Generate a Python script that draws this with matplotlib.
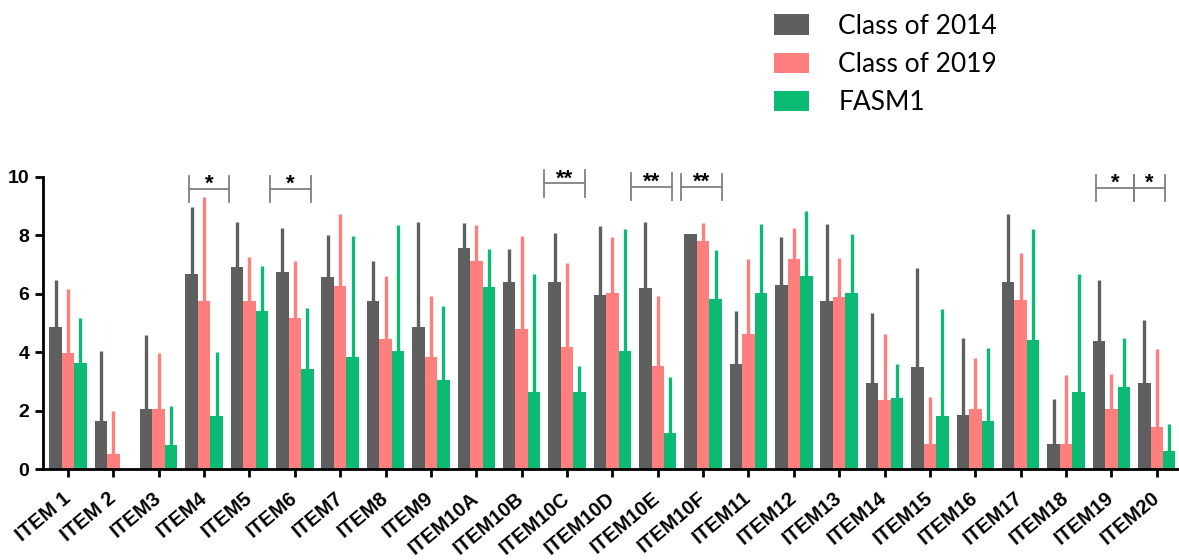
import numpy as np
import matplotlib
matplotlib.use("Agg")
import matplotlib.pyplot as plt
from matplotlib.patches import Patch

items = ["ITEM 1", "ITEM 2", "ITEM3", "ITEM4", "ITEM5", "ITEM6", "ITEM7", "ITEM8",
         "ITEM9", "ITEM10A", "ITEM10B", "ITEM10C", "ITEM10D", "ITEM10E", "ITEM10F",
         "ITEM11", "ITEM12", "ITEM13", "ITEM14", "ITEM15", "ITEM16", "ITEM17",
         "ITEM18", "ITEM19", "ITEM20"]
series = ["Class of 2014", "Class of 2019", "FASM1"]

# mean scores per item
mean_2014 = [4.85, 1.66, 2.05, 6.66, 6.93, 6.75, 6.58, 5.75, 4.85, 7.57, 6.39, 6.39, 5.96,
             6.21, 8.04, 3.59, 6.30, 5.76, 2.94, 3.49, 1.86, 6.39, 0.86, 4.38, 2.94]
mean_2019 = [3.96, 0.52, 2.05, 5.76, 5.76, 5.18, 6.28, 4.44, 3.85, 7.12, 4.78, 4.19, 6.04,
             3.54, 7.80, 4.62, 7.19, 5.89, 2.37, 0.86, 2.05, 5.79, 0.86, 2.05, 1.46]
mean_fasm = [3.62, 0.00, 0.83, 1.82, 5.41, 3.43, 3.83, 4.04, 3.05, 6.22, 2.63, 2.63, 4.04,
             1.23, 5.82, 6.04, 6.62, 6.04, 2.45, 1.82, 1.65, 4.42, 2.63, 2.82, 0.64]

# upper error (SD)
sd_2014 = [1.62, 2.39, 2.54, 2.32, 1.53, 1.51, 1.44, 1.37, 3.61, 0.84, 1.14, 1.70, 2.37,
           2.23, 0.00, 1.82, 1.63, 2.62, 2.40, 3.40, 2.64, 2.35, 1.54, 2.09, 2.16]
sd_2019 = [2.21, 1.48, 1.91, 3.56, 1.51, 1.94, 2.43, 2.17, 2.07, 1.23, 3.19, 2.87, 1.90,
           2.39, 0.63, 2.56, 1.05, 1.32, 2.24, 1.61, 1.75, 1.60, 2.35, 1.20, 2.64]
sd_fasm = [1.54, 0.00, 1.33, 2.20, 1.54, 2.08, 4.14, 4.30, 2.54, 1.32, 4.04, 0.91, 4.17,
           1.94, 1.67, 2.35, 2.21, 2.00, 1.14, 3.65, 2.51, 3.79, 4.04, 1.66, 0.91]

# significance marks: item, label
sig_items = ["ITEM4", "ITEM6", "ITEM10C", "ITEM10E", "ITEM10F", "ITEM19", "ITEM20"]
sig_labels = ["*", "*", "**", "**", "**", "*", "*"]

colors = ["#5f5f5f", "#ff7f7e", "#0bbb74"]

fig = plt.figure(figsize=(11.79, 5.6), dpi=100)
ax = fig.add_axes([0.0365, 0.162, 0.9635, 0.5225])

x = np.arange(len(items))
w = 0.275
means = [mean_2014, mean_2019, mean_fasm]
sds = [sd_2014, sd_2019, sd_fasm]
for k in range(3):
    xs = x + (k - 1) * w
    ax.bar(xs, means[k], width=w, color=colors[k], linewidth=0, zorder=2)
    ax.errorbar(xs, means[k], yerr=[np.zeros(len(items)), sds[k]], fmt="none",
                ecolor=colors[k], elinewidth=2.4, capsize=0, zorder=1)

ax.set_xlim(-0.55, len(items) - 0.51)
ax.set_ylim(0, 10)
ax.set_yticks([0, 2, 4, 6, 8, 10])
ax.set_xticks(x)
ax.set_xticklabels(items, rotation=40, ha="right", va="center", rotation_mode="anchor",
                   fontsize=14.5, fontweight="bold", family="Liberation Sans")
for lab in ax.get_yticklabels():
    lab.set_fontsize(14)
    lab.set_fontweight("bold")
    lab.set_family("Liberation Sans")
ax.tick_params(axis="both", width=2, length=6, pad=4)
ax.tick_params(axis="x", pad=13)
for s in ["top", "right"]:
    ax.spines[s].set_visible(False)
for s in ["left", "bottom"]:
    ax.spines[s].set_linewidth(2)

# brackets: left/right offsets from item center
left_off = [-0.33, -0.55, -0.50, -0.58, -0.48, -0.34, -0.50]
right_off = [0.56, 0.36, 0.40, 0.32, 0.42, 0.50, 0.18]
line_y = [9.57, 9.57, 9.77, 9.66, 9.64, 9.62, 9.62]
for name, lab, lo, ro, ly in zip(sig_items, sig_labels, left_off, right_off, line_y):
    c = items.index(name)
    x0, x1 = c + lo, c + ro
    kw = dict(color="#808080", lw=1.3, clip_on=False)
    ax.plot([x0, x1], [ly, ly], **kw)
    ax.plot([x0, x0], [ly - 0.45, ly + 0.45], **kw)
    ax.plot([x1, x1], [ly - 0.45, ly + 0.45], **kw)
    ax.text((x0 + x1) / 2, ly + 0.16, lab, ha="center", va="center", fontsize=16,
            fontweight="bold", family="Liberation Sans", clip_on=False)

handles = [Patch(facecolor=c, edgecolor="none") for c in colors]
fig.legend(handles, series, loc="upper left", bbox_to_anchor=(0.636, 1.018),
           frameon=False, handlelength=1.35, handleheight=0.8,
           handletextpad=1.1, labelspacing=0.5, prop={"family": "Lato", "size": 19})

fig.savefig("out.png", dpi=100)
